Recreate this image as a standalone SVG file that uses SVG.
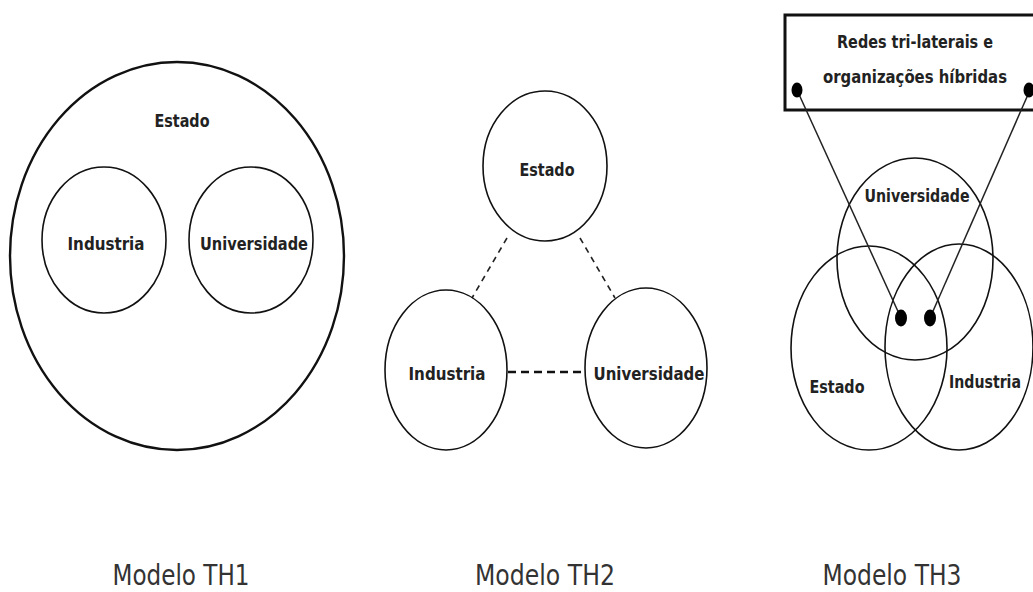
<svg xmlns="http://www.w3.org/2000/svg" width="1033" height="592" viewBox="0 0 1033 592">
<style>
.bg{fill:#fff}
.el{fill:none;stroke:#111;stroke-width:1.6}
.elb{fill:none;stroke:#111;stroke-width:2.4}
.lbl{font-family:"DejaVu Sans",sans-serif;font-weight:bold;font-size:17px;fill:#222}
.cap{font-family:"DejaVu Sans",sans-serif;font-size:28px;fill:#333}
.dash{stroke:#222;stroke-width:1.6;stroke-dasharray:6 5;fill:none}
.dashh{stroke:#111;stroke-width:2.6;stroke-dasharray:8 5;fill:none}
.ln{stroke:#222;stroke-width:1.5;fill:none}
.dot{fill:#000}
</style>
<rect class="bg" x="0" y="0" width="1033" height="592"/>

<g id="th1">
  <g id="th1-estado">
    <ellipse class="elb" cx="177" cy="256" rx="167" ry="194"/>
    <text class="lbl" x="182" y="127" text-anchor="middle" textLength="55" lengthAdjust="spacingAndGlyphs">Estado</text>
  </g>
  <g id="th1-industria">
    <ellipse class="el" cx="104" cy="240" rx="62" ry="73"/>
    <text class="lbl" x="106" y="250" text-anchor="middle" textLength="77" lengthAdjust="spacingAndGlyphs">Industria</text>
  </g>
  <g id="th1-universidade">
    <ellipse class="el" cx="251" cy="240" rx="62" ry="73"/>
    <text class="lbl" x="254" y="250" text-anchor="middle" textLength="108" lengthAdjust="spacingAndGlyphs">Universidade</text>
  </g>
  <text id="th1-caption" class="cap" x="181" y="585" text-anchor="middle" textLength="137" lengthAdjust="spacingAndGlyphs">Modelo TH1</text>
</g>

<g id="th2-connectors">
  <line class="dash" x1="507" y1="238" x2="472" y2="298"/>
  <line class="dash" x1="580" y1="238" x2="615" y2="298"/>
  <line class="dashh" x1="508" y1="372" x2="584" y2="372"/>
</g>
<g id="th2">
  <g id="th2-estado">
    <ellipse class="el" cx="545" cy="166" rx="62" ry="75"/>
    <text class="lbl" x="547" y="176" text-anchor="middle" textLength="55" lengthAdjust="spacingAndGlyphs">Estado</text>
  </g>
  <g id="th2-industria">
    <ellipse class="el" cx="446" cy="370" rx="61" ry="80"/>
    <text class="lbl" x="447" y="380" text-anchor="middle" textLength="77" lengthAdjust="spacingAndGlyphs">Industria</text>
  </g>
  <g id="th2-universidade">
    <ellipse class="el" cx="646" cy="368" rx="61" ry="80"/>
    <text class="lbl" x="649" y="380" text-anchor="middle" textLength="111" lengthAdjust="spacingAndGlyphs">Universidade</text>
  </g>
  <text id="th2-caption" class="cap" x="545" y="585" text-anchor="middle" textLength="140" lengthAdjust="spacingAndGlyphs">Modelo TH2</text>
</g>

<g id="th3">
  <g id="th3-redes">
    <rect x="785" y="15" width="260" height="95" fill="none" stroke="#111" stroke-width="3"/>
    <text class="lbl" x="915" y="48" text-anchor="middle" textLength="156" lengthAdjust="spacingAndGlyphs">Redes tri-laterais e</text>
    <text class="lbl" x="915" y="83" text-anchor="middle" textLength="184" lengthAdjust="spacingAndGlyphs">organizações híbridas</text>
  </g>
  <g id="th3-universidade">
    <ellipse class="el" cx="915" cy="259" rx="78" ry="101"/>
    <text class="lbl" x="917" y="202" text-anchor="middle" textLength="105" lengthAdjust="spacingAndGlyphs">Universidade</text>
  </g>
  <g id="th3-estado">
    <ellipse class="el" cx="869" cy="348" rx="78" ry="102"/>
    <text class="lbl" x="837" y="393" text-anchor="middle" textLength="55" lengthAdjust="spacingAndGlyphs">Estado</text>
  </g>
  <g id="th3-industria">
    <ellipse class="el" cx="959" cy="347" rx="74" ry="103"/>
    <text class="lbl" x="985" y="388" text-anchor="middle" textLength="72" lengthAdjust="spacingAndGlyphs">Industria</text>
  </g>
  <text id="th3-caption" class="cap" x="892" y="585" text-anchor="middle" textLength="139" lengthAdjust="spacingAndGlyphs">Modelo TH3</text>
</g>
<g id="th3-connectors">
  <line class="ln" x1="797" y1="90" x2="901" y2="318"/>
  <line class="ln" x1="1030" y1="90" x2="930" y2="318"/>
  <ellipse class="dot" cx="797" cy="90" rx="5.5" ry="7.5"/>
  <ellipse class="dot" cx="1029" cy="90" rx="5.5" ry="7.5"/>
  <ellipse class="dot" cx="901" cy="318" rx="6" ry="8.5"/>
  <ellipse class="dot" cx="930" cy="318" rx="6" ry="8.5"/>
</g>
</svg>
